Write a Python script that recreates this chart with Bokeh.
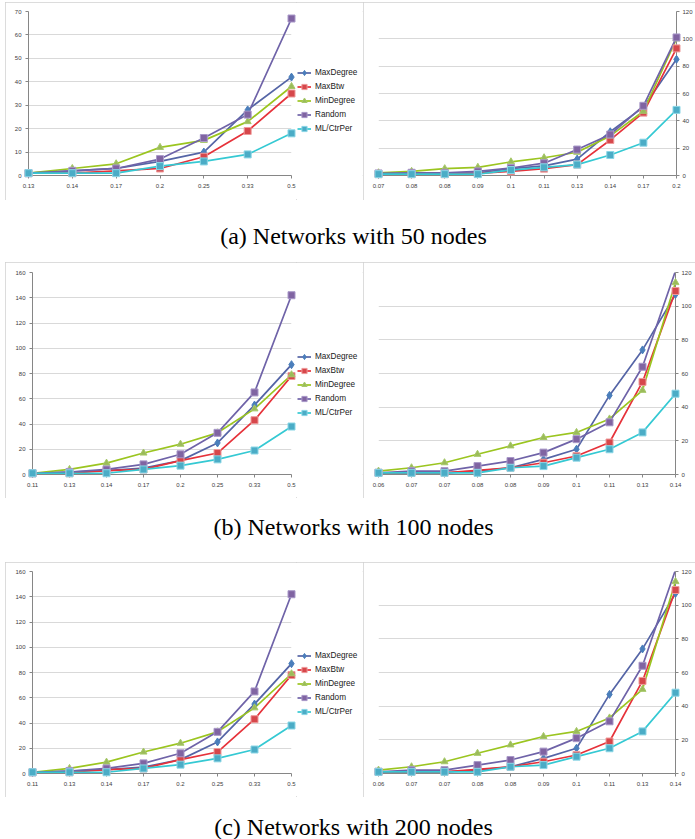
from bokeh.plotting import figure
from bokeh.models import (Range1d, FixedTicker, Legend, LegendItem, Label, Spacer,
                          ColumnDataSource, CDSView, BooleanFilter)
from bokeh.layouts import column, row
from bokeh.embed import file_html
from bokeh.resources import INLINE

SERIES = ["MaxDegree", "MaxBtw", "MinDegree", "Random", "ML/CtrPer"]

# ---------------- (a) Networks with 50 nodes ----------------
a_left_labels = ["0.13", "0.14", "0.17", "0.2", "0.25", "0.33", "0.5"]
a_left_maxdegree = [1, 2, 3, 6, 10, 28, 42]
a_left_maxbtw = [1, 1, 2, 3, 8, 19, 35]
a_left_mindegree = [1, 3, 5, 12, 15, 23, 38]
a_left_random = [1, 2, 3, 7, 16, 26, 67]
a_left_mlctrper = [1, 1, 1, 4, 6, 9, 18]

a_right_labels = ["0.07", "0.08", "0.08", "0.09", "0.1", "0.11", "0.13", "0.14", "0.17", "0.2"]
a_right_maxdegree = [1, 1.5, 1.5, 2, 5, 7, 12, 32, 50, 85]
a_right_maxbtw = [1, 1, 1, 1.5, 3, 5, 8, 26, 46, 93]
a_right_mindegree = [2, 3, 5, 6, 10, 13, 17, 29, 47, 100]
a_right_random = [1.5, 2, 2, 3, 5.5, 9, 19, 30, 51, 101]
a_right_mlctrper = [1, 1, 1, 1, 4, 6, 8, 15, 24, 48]

# ---------------- (b) Networks with 100 nodes ----------------
b_left_labels = ["0.11", "0.13", "0.14", "0.17", "0.2", "0.25", "0.33", "0.5"]
b_left_maxdegree = [1, 2, 3, 5, 11, 25, 55, 87]
b_left_maxbtw = [1, 1, 3, 4, 11, 17, 43, 78]
b_left_mindegree = [1, 4, 9, 17, 24, 33, 52, 79]
b_left_random = [1, 2, 4, 8, 16, 33, 65, 142]
b_left_mlctrper = [1, 1, 1, 4, 7, 12, 19, 38]

b_right_labels = ["0.06", "0.07", "0.07", "0.08", "0.08", "0.09", "0.1", "0.11", "0.13", "0.14"]
b_right_maxdegree = [1, 1, 1, 2, 4, 9, 15, 47, 74, 107]
b_right_maxbtw = [1, 1, 1, 2.5, 4, 7, 11, 19, 55, 109]
b_right_mindegree = [2, 4, 7, 12, 17, 22, 25, 33, 50, 114]
b_right_random = [1, 2, 2, 5, 8, 13, 21, 31, 64, 121]
b_right_mlctrper = [1, 1, 1, 1, 4, 5, 10, 15, 25, 48]

# ---------------- (c) Networks with 200 nodes ----------------
c_left_labels = ["0.11", "0.13", "0.14", "0.17", "0.2", "0.25", "0.33", "0.5"]
c_left_maxdegree = [1, 2, 3, 5, 11, 25, 55, 87]
c_left_maxbtw = [1, 1, 3, 4, 11, 17, 43, 78]
c_left_mindegree = [1, 4, 9, 17, 24, 33, 52, 79]
c_left_random = [1, 2, 4, 8, 16, 33, 65, 142]
c_left_mlctrper = [1, 1, 1, 4, 7, 12, 19, 38]

c_right_labels = ["0.06", "0.07", "0.07", "0.08", "0.08", "0.09", "0.1", "0.11", "0.13", "0.14"]
c_right_maxdegree = [1, 1, 1, 2, 4, 9, 15, 47, 74, 107]
c_right_maxbtw = [1, 1, 1, 2.5, 4, 7, 11, 19, 55, 109]
c_right_mindegree = [2, 4, 7, 12, 17, 22, 25, 33, 50, 114]
c_right_random = [1, 2, 2, 5, 8, 13, 21, 31, 64, 121]
c_right_mlctrper = [1, 1, 1, 1, 4, 5, 10, 15, 25, 48]

captions = ["(a) Networks with 50 nodes", "(b) Networks with 100 nodes",
            "(c) Networks with 200 nodes"]

# ---------------- styles ----------------
LINE_COLORS = ["#5565A6", "#E6323A", "#9BC520", "#6F63A8", "#35C9D3"]
MARK_FILL = ["#4A7EBB", "#D6474B", "#9BBB59", "#8064A2", "#4BACC6"]
MARK_LINE = ["#4A7EBB", "#EE9A9A", "#A6C86A", "#A898C8", "#8AD6E6"]
MARKERS = ["diamond", "square", "triangle", "square", "square"]
MSIZE = [8, 7, 7, 7, 7]
TICK_FONT = "Liberation Sans"
GRID = "#D9D9D9"
AXIS = "#868686"
BOX = {"outline": "1px solid #D0D0D0", "outline-offset": "-1px"}


def plain(p):
    p.outline_line_color = None
    p.border_fill_color = "white"
    p.background_fill_color = "white"


def chart(labels, series, ymax, ystep, side, width, height, borders, styles=None):
    n = len(labels)
    p = figure(width=width, height=height, x_range=Range1d(0, n - 1),
               y_range=Range1d(0, ymax), output_backend="svg",
               toolbar_location=None, y_axis_location=side, title=None,
               min_border_left=borders[0], min_border_right=borders[1],
               min_border_top=borders[2], min_border_bottom=borders[3])
    plain(p)
    if styles:
        p.styles = styles
    p.xgrid.visible = False
    yt = FixedTicker(ticks=list(range(0, ymax + 1, ystep)))
    p.yaxis.ticker = yt
    p.ygrid.ticker = yt
    p.ygrid.grid_line_color = GRID
    p.xaxis.ticker = FixedTicker(ticks=list(range(n)))
    p.xaxis.major_label_overrides = {i: lab for i, lab in enumerate(labels)}
    for ax in (p.xaxis, p.yaxis):
        ax.axis_line_color = AXIS
        ax.major_tick_line_color = AXIS
        ax.minor_tick_line_color = None
        ax.major_tick_out = 3
        ax.major_tick_in = 0
        ax.major_label_text_font = TICK_FONT
        ax.major_label_text_font_size = "6px"
        ax.major_label_text_color = "#404040"
    p.xaxis.major_label_standoff = 5
    p.yaxis.major_label_standoff = 4 if side == "left" else 3
    for k, vals in enumerate(series):
        src = ColumnDataSource(dict(x=list(range(n)), y=vals))
        p.line("x", "y", source=src, line_color=LINE_COLORS[k], line_width=1.7)
        view = CDSView(filter=BooleanFilter([v <= ymax for v in vals]))
        mr = p.scatter("x", "y", source=src, view=view, marker=MARKERS[k],
                       size=MSIZE[k], fill_color=MARK_FILL[k],
                       line_color=MARK_LINE[k], line_width=1)
        mr.level = "annotation"
    return p


def legend_fig(series, width, height, bottom):
    # key of the row's left chart; its renderers carry that chart's series
    # but are hidden, only their legend samples are drawn
    n = len(series[0])
    p = figure(width=width, height=height, x_range=Range1d(0, 1),
               y_range=Range1d(0, 1), output_backend="svg",
               toolbar_location=None, title=None, min_border=0,
               x_axis_location=None, y_axis_location=None)
    plain(p)
    p.grid.visible = False
    items = []
    for k, name in enumerate(SERIES):
        src = ColumnDataSource(dict(x=list(range(n)), y=series[k]))
        lr = p.line("x", "y", source=src, line_color=LINE_COLORS[k],
                    line_width=1.7, visible=False)
        mr = p.scatter("x", "y", source=src, marker=MARKERS[k], size=MSIZE[k] - 1,
                       fill_color=MARK_FILL[k], line_color=MARK_LINE[k],
                       line_width=1, visible=False)
        items.append(LegendItem(label=name, renderers=[lr, mr], index=0))
    leg = Legend(items=items, location=(1, bottom), orientation="vertical")
    leg.border_line_color = None
    leg.background_fill_alpha = 0
    leg.inactive_fill_alpha = 0
    leg.label_text_font = TICK_FONT
    leg.label_text_font_size = "8.2px"
    leg.label_text_color = "#202020"
    leg.glyph_width = 14
    leg.glyph_height = 13
    leg.label_height = 13
    leg.label_standoff = 4
    leg.spacing = 1
    leg.padding = 2
    leg.margin = 0
    p.add_layout(leg)
    return p


def caption(text, height, center_from_top):
    p = figure(width=695, height=height, x_range=Range1d(0, 695),
               y_range=Range1d(0, height), output_backend="svg",
               toolbar_location=None, title=None, min_border=0,
               x_axis_location=None, y_axis_location=None)
    p.grid.visible = False
    plain(p)
    p.add_layout(Label(x=353, y=height - center_from_top, text=text,
                       text_align="center", text_baseline="middle",
                       text_font="Liberation Serif",
                       text_font_size="24px", text_color="#000000"))
    return p


a_series_l = [a_left_maxdegree, a_left_maxbtw, a_left_mindegree, a_left_random, a_left_mlctrper]
a_series_r = [a_right_maxdegree, a_right_maxbtw, a_right_mindegree, a_right_random, a_right_mlctrper]
b_series_l = [b_left_maxdegree, b_left_maxbtw, b_left_mindegree, b_left_random, b_left_mlctrper]
b_series_r = [b_right_maxdegree, b_right_maxbtw, b_right_mindegree, b_right_random, b_right_mlctrper]
c_series_l = [c_left_maxdegree, c_left_maxbtw, c_left_mindegree, c_left_random, c_left_mlctrper]
c_series_r = [c_right_maxdegree, c_right_maxbtw, c_right_mindegree, c_right_random, c_right_mlctrper]

# ---- row (a): box 2..200 ----
a_l = chart(a_left_labels, a_series_l, 70, 10, "left", 291, 198, (23, 5, 9, 25))
a_k = legend_fig(a_series_l, 67, 198, 40)
a_r = chart(a_right_labels, a_series_r, 120, 20, "right", 332, 198, (15, 19, 9, 25),
            styles=BOX)

# ---- row (b): box 262..498 ----
b_l = chart(b_left_labels, b_series_l, 160, 20, "left", 291, 236, (27, 5, 10, 24))
b_k = legend_fig(b_series_l, 67, 236, 55)
b_r = chart(b_right_labels, b_series_r, 120, 20, "right", 332, 236, (15, 20, 10, 24),
            styles=BOX)

# ---- row (c): box 562..797 ----
c_l = chart(c_left_labels, c_series_l, 160, 20, "left", 291, 235, (27, 5, 9, 24))
c_k = legend_fig(c_series_l, 67, 235, 55)
c_r = chart(c_right_labels, c_series_r, 120, 20, "right", 332, 235, (15, 20, 9, 24),
            styles=BOX)

cap_a = caption(captions[0], 62, 35)
cap_b = caption(captions[1], 64, 28)
cap_c = caption(captions[2], 42, 29)


def chart_row(left, key, right):
    return row(Spacer(width=5), row(left, key, styles=BOX), right)


layout = column(Spacer(height=2),
                chart_row(a_l, a_k, a_r), cap_a,
                chart_row(b_l, b_k, b_r), cap_b,
                chart_row(c_l, c_k, c_r), cap_c)

open("out.html", "w").write(file_html(layout, INLINE))
